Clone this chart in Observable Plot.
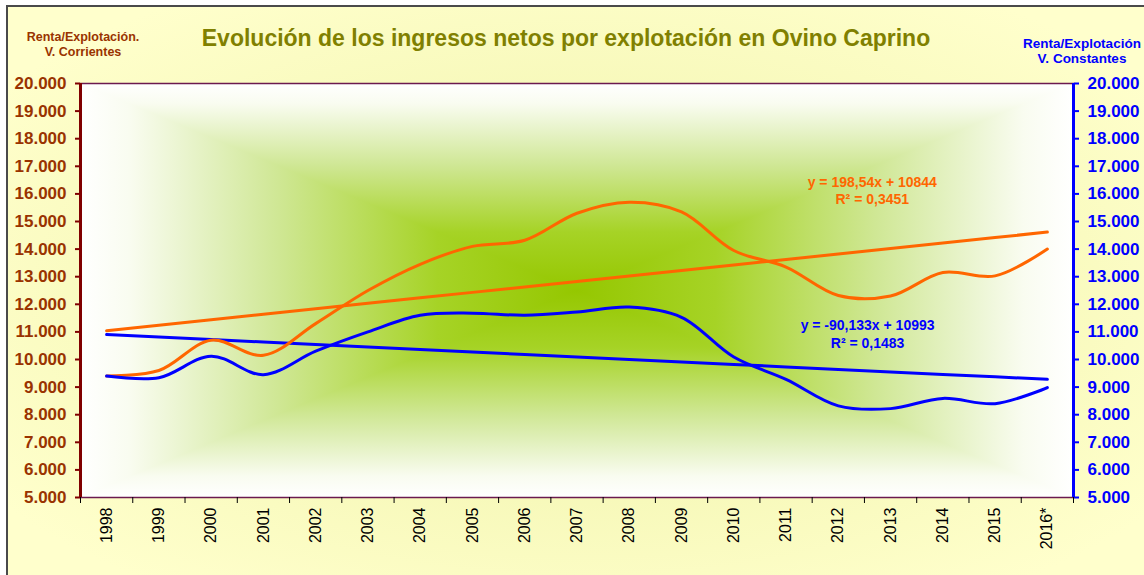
<!DOCTYPE html>
<html><head><meta charset="utf-8">
<script src="https://cdn.jsdelivr.net/npm/d3@7"></script>
<script src="https://cdn.jsdelivr.net/npm/@observablehq/plot@0.6"></script>
<style>
body{margin:0;background:#fff;}
#wrap{position:relative;width:1144px;height:575px;overflow:hidden;font-family:Arial,"Liberation Sans",sans-serif;}
#box{position:absolute;left:6px;top:5px;width:1150px;height:580px;border:2px solid #4a4a4a;
  background:radial-gradient(ellipse 62% 62% at 50% 50%, #eef4ac 0%, #f6f8b8 50%, #ffffcc 100%);}
#chart{position:absolute;left:0;top:0;}
.t{position:absolute;font-weight:bold;white-space:nowrap;text-align:center;}
#title{left:0;width:1132px;top:27px;font-size:23px;line-height:23px;color:#808000;}
#ltitle{left:8px;width:150px;top:30px;font-size:12.5px;line-height:14.5px;color:#993300;}
#rtitle{left:1010px;width:144px;top:36px;font-size:13.5px;line-height:15.4px;color:#0000ff;}
</style></head><body>
<div id="wrap"><div id="box"></div><div id="chart"></div>
<div class="t" id="title">Evolución de los ingresos netos por explotación en Ovino Caprino</div>
<div class="t" id="ltitle">Renta/Explotación.<br>V. Corrientes</div>
<div class="t" id="rtitle">Renta/Explotación<br>V. Constantes</div>
</div>
<script>
const years = ["1998","1999","2000","2001","2002","2003","2004","2005","2006","2007","2008","2009","2010","2011","2012","2013","2014","2015","2016*"];
const corrientes = [9400, 9600, 10700, 10150, 11300, 12500, 13450, 14100, 14320, 15300, 15700, 15350, 13950, 13350, 12320, 12300, 13150, 13030, 14000];
const constantes = [9400, 9340, 10120, 9450, 10300, 11000, 11600, 11680, 11600, 11720, 11900, 11530, 10090, 9280, 8320, 8220, 8590, 8400, 8980];
const trendCorr = {slope: 198.54, intercept: 10844, label: "y = 198,54x + 10844\nR² = 0,3451"};
const trendCons = {slope: -90.133, intercept: 10993, label: "y = -90,133x + 10993\nR² = 0,1483"};
const yTicks = [5000,6000,7000,8000,9000,10000,11000,12000,13000,14000,15000,16000,17000,18000,19000,20000];

const rows = years.map((y, k) => ({
  i: k + 1, year: y, corr: corrientes[k], cons: constantes[k],
  tCorr: trendCorr.intercept + trendCorr.slope * (k + 1),
  tCons: trendCons.intercept + trendCons.slope * (k + 1)
}));
const idx = rows.map(d => d.i);
const edges = [0.5].concat(idx.map(i => i + 0.5));
const fmt = d3.formatLocale({decimal: ",", thousands: ".", grouping: [3], currency: ["", ""]}).format(",d");

// rectangular "from centre" gradient fill of the plot area
function glow(index, scales, values, dims) {
  const {width, height, marginLeft: ml, marginRight: mr, marginTop: mt, marginBottom: mb} = dims;
  const x0 = ml, x1 = width - mr, y0 = mt, y1 = height - mb;
  const cx = (x0 + x1) / 2, cy = (y0 + y1) / 2;
  const g = d3.create("svg:g");
  const defs = g.append("defs");
  const stops = [[0, "#ffffff"], [0.1, "#f9fcf0"], [0.4, "#cfe794"], [0.72, "#a6d326"], [1, "#95c700"]];
  const sides = [
    {id: "gl", a: [x0, cy], b: [cx, cy], pts: [[x0, y0], [cx, cy], [x0, y1]]},
    {id: "gr", a: [x1, cy], b: [cx, cy], pts: [[x1, y0], [cx, cy], [x1, y1]]},
    {id: "gt", a: [cx, y0], b: [cx, cy], pts: [[x0, y0], [cx, cy], [x1, y0]]},
    {id: "gb", a: [cx, y1], b: [cx, cy], pts: [[x0, y1], [cx, cy], [x1, y1]]}
  ];
  for (const s of sides) {
    const lg = defs.append("linearGradient").attr("id", s.id).attr("gradientUnits", "userSpaceOnUse")
      .attr("x1", s.a[0]).attr("y1", s.a[1]).attr("x2", s.b[0]).attr("y2", s.b[1]);
    for (const [o, c] of stops) lg.append("stop").attr("offset", o).attr("stop-color", c);
    g.append("polygon").attr("points", s.pts.map(p => p.join(",")).join(" "))
      .attr("fill", `url(#${s.id})`).attr("shape-rendering", "crispEdges");
  }
  return g.node();
}

const chart = Plot.plot({
  width: 1144, height: 575,
  marginLeft: 80, marginRight: 71, marginTop: 83, marginBottom: 78,
  x: {type: "linear", domain: [0.5, years.length + 0.5]},
  y: {domain: [5000, 20000]},
  style: "background: transparent; overflow: visible; font-family: Arial, 'Liberation Sans', sans-serif;",
  marks: [
    Plot.frame({fill: "white"}),
    glow,
    Plot.frame({stroke: "#6b1a4f", strokeWidth: 1.5}),
    Plot.axisX(edges, {tickSize: 6, tickFormat: () => "", stroke: "black", label: null}),
    Plot.axisX(idx, {tickSize: 0, tickPadding: 10, tickRotate: -90, tickFormat: i => years[i - 1],
      fontSize: 16, fill: "black", label: null}),
    Plot.axisY(yTicks, {anchor: "left", tickSize: 5, tickPadding: 9, tickFormat: fmt, fontSize: 17,
      fontWeight: "bold", fill: "#993300", stroke: "#800000", strokeWidth: 2, label: null}),
    Plot.axisY(yTicks, {anchor: "right", tickSize: 5, tickPadding: 9, tickFormat: fmt, fontSize: 17,
      fontWeight: "bold", fill: "#0000ff", stroke: "#0000ff", strokeWidth: 2, label: null}),
    Plot.ruleX([edges[0]], {stroke: "#800000", strokeWidth: 3}),
    Plot.ruleX([edges[edges.length - 1]], {stroke: "#0000ff", strokeWidth: 3}),
    Plot.line(rows, {x: "i", y: "tCorr", stroke: "#ff6600", strokeWidth: 3}),
    Plot.line(rows, {x: "i", y: "tCons", stroke: "#0000ff", strokeWidth: 3}),
    Plot.line(rows, {x: "i", y: "corr", stroke: "#ff6600", strokeWidth: 3, curve: "catmull-rom"}),
    Plot.line(rows, {x: "i", y: "cons", stroke: "#0000ff", strokeWidth: 3, curve: "catmull-rom"}),
    Plot.text([trendCorr], {x: () => 15.65, y: () => 16140, text: "label", fill: "#ff6600",
      fontSize: 14, fontWeight: "bold", lineHeight: 1.25}),
    Plot.text([trendCons], {x: () => 15.56, y: () => 10940, text: "label", fill: "#0000ff",
      fontSize: 14, fontWeight: "bold", lineHeight: 1.25})
  ]
});
document.getElementById("chart").appendChild(chart);
</script>
</body></html>
